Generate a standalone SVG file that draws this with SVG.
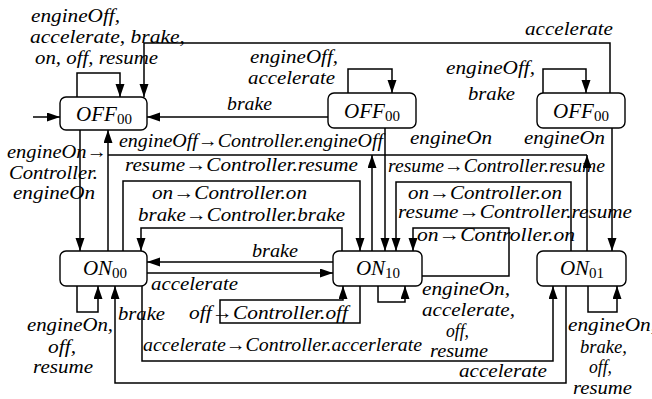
<svg xmlns="http://www.w3.org/2000/svg" width="652" height="399" viewBox="0 0 652 399">
<style>
.c{fill:none;stroke:#000;stroke-width:1.5;marker-end:url(#ah)}
.l{fill:none;stroke:#000;stroke-width:1.5}
.n{fill:#fff;stroke:#000;stroke-width:1.4}
</style>
<defs>
<marker id="ah" markerUnits="userSpaceOnUse" markerWidth="14" markerHeight="10" refX="13" refY="4.5" orient="auto">
<path d="M0,0 L13,4.5 L0,9 z" fill="#000"/>
</marker>
</defs>
<rect width="652" height="399" fill="#fff"/>
<g id="connectors">
<path class="c" d="M33,117 H60"/>
<path class="c" d="M77,97 V73 H120 V97"/>
<path class="c" d="M610,93 V43 H144 V97"/>
<path class="c" d="M348,93 V69 H392 V93"/>
<path class="c" d="M543,93 V69 H586 V93"/>
<path class="c" d="M328,117 H147"/>
<path class="c" d="M80,130 V251"/>
<path class="l" d="M108,155 H587"/>
<path class="c" d="M108,251 V130"/>
<path class="c" d="M372,251 V155"/>
<path class="c" d="M587,251 V155"/>
<path class="c" d="M385,128 V251"/>
<path class="c" d="M612,128 V251"/>
<path class="c" d="M123,251 V181 H360 V251"/>
<path class="c" d="M571,251 V182 H396 V251"/>
<path class="c" d="M342,251 V228 H141 V251"/>
<path class="c" d="M422,276 H509 V228 H413 V251"/>
<path class="c" d="M333,262 H147"/>
<path class="c" d="M147,273 H333"/>
<path class="c" d="M77,286 V312 H98 V286"/>
<path class="c" d="M360,286 V323 H220 V300 H343 V286"/>
<path class="c" d="M378,286 V302 H405 V286"/>
<path class="c" d="M142,286 V361 H553 V286"/>
<path class="c" d="M566,286 V383 H115 V286"/>
<path class="c" d="M588,286 V312 H617 V286"/>
</g>
<g id="labels" font-family="Liberation Serif" font-style="italic" font-size="19" fill="#000">
<text x="31" y="22" textLength="89" lengthAdjust="spacingAndGlyphs">engineOff,</text>
<text x="30" y="43" textLength="155" lengthAdjust="spacingAndGlyphs">accelerate, brake,</text>
<text x="35" y="64" textLength="123" lengthAdjust="spacingAndGlyphs">on, off, resume</text>
<text x="250" y="63" textLength="88" lengthAdjust="spacingAndGlyphs">engineOff,</text>
<text x="248" y="84" textLength="87" lengthAdjust="spacingAndGlyphs">accelerate</text>
<text x="227" y="110" textLength="45" lengthAdjust="spacingAndGlyphs">brake</text>
<text x="525" y="35" textLength="88" lengthAdjust="spacingAndGlyphs">accelerate</text>
<text x="446" y="74" textLength="89" lengthAdjust="spacingAndGlyphs">engineOff,</text>
<text x="468" y="100" textLength="47" lengthAdjust="spacingAndGlyphs">brake</text>
<text x="410" y="144" textLength="82" lengthAdjust="spacingAndGlyphs">engineOn</text>
<text x="524" y="144" textLength="81" lengthAdjust="spacingAndGlyphs">engineOn</text>
<text x="119" y="147" textLength="264" lengthAdjust="spacingAndGlyphs">engineOff→Controller.engineOff</text>
<text x="125" y="171" textLength="233" lengthAdjust="spacingAndGlyphs">resume→Controller.resume</text>
<text x="388" y="172" textLength="217" lengthAdjust="spacingAndGlyphs">resume→Controller.resume</text>
<text x="152" y="199" textLength="155" lengthAdjust="spacingAndGlyphs">on→Controller.on</text>
<text x="138" y="221" textLength="207" lengthAdjust="spacingAndGlyphs">brake→Controller.brake</text>
<text x="408" y="199" textLength="154" lengthAdjust="spacingAndGlyphs">on→Controller.on</text>
<text x="398" y="218" textLength="234" lengthAdjust="spacingAndGlyphs">resume→Controller.resume</text>
<text x="417" y="241" textLength="158" lengthAdjust="spacingAndGlyphs">on→Controller.on</text>
<text x="252" y="257" textLength="46" lengthAdjust="spacingAndGlyphs">brake</text>
<text x="151" y="290" textLength="87" lengthAdjust="spacingAndGlyphs">accelerate</text>
<text x="118" y="320" textLength="47" lengthAdjust="spacingAndGlyphs">brake</text>
<text x="189" y="319" textLength="159" lengthAdjust="spacingAndGlyphs">off→Controller.off</text>
<text x="143" y="351" textLength="279" lengthAdjust="spacingAndGlyphs">accelerate→Controller.accerlerate</text>
<text x="27" y="331" textLength="86" lengthAdjust="spacingAndGlyphs">engineOn,</text>
<text x="48" y="353" textLength="28" lengthAdjust="spacingAndGlyphs">off,</text>
<text x="33" y="373" textLength="60" lengthAdjust="spacingAndGlyphs">resume</text>
<text x="7" y="158" textLength="100" lengthAdjust="spacingAndGlyphs">engineOn→</text>
<text x="9" y="179" textLength="89" lengthAdjust="spacingAndGlyphs">Controller.</text>
<text x="13" y="199" textLength="82" lengthAdjust="spacingAndGlyphs">engineOn</text>
<text x="422" y="295" textLength="88" lengthAdjust="spacingAndGlyphs">engineOn,</text>
<text x="422" y="316" textLength="93" lengthAdjust="spacingAndGlyphs">accelerate,</text>
<text x="446" y="337" textLength="23" lengthAdjust="spacingAndGlyphs">off,</text>
<text x="430" y="357" textLength="58" lengthAdjust="spacingAndGlyphs">resume</text>
<text x="459" y="377" textLength="88" lengthAdjust="spacingAndGlyphs">accelerate</text>
<text x="568" y="331" textLength="88" lengthAdjust="spacingAndGlyphs">engineOn,</text>
<text x="580" y="353" textLength="47" lengthAdjust="spacingAndGlyphs">brake,</text>
<text x="589" y="373" textLength="23" lengthAdjust="spacingAndGlyphs">off,</text>
<text x="573" y="394" textLength="59" lengthAdjust="spacingAndGlyphs">resume</text>
</g>
<g id="OFF00_left">
<rect class="n" x="60" y="97" width="87" height="33" rx="6"/>
<text font-family="Liberation Serif" font-size="21" text-anchor="middle" x="104" y="121"><tspan font-style="italic">OFF</tspan><tspan font-size="15" dy="3">00</tspan></text>
</g>
<g id="OFF00_mid">
<rect class="n" x="328" y="93" width="88" height="35" rx="6"/>
<text font-family="Liberation Serif" font-size="21" text-anchor="middle" x="372" y="118"><tspan font-style="italic">OFF</tspan><tspan font-size="15" dy="3">00</tspan></text>
</g>
<g id="OFF00_right">
<rect class="n" x="537" y="93" width="88" height="35" rx="6"/>
<text font-family="Liberation Serif" font-size="21" text-anchor="middle" x="581" y="118"><tspan font-style="italic">OFF</tspan><tspan font-size="15" dy="3">00</tspan></text>
</g>
<g id="ON00">
<rect class="n" x="60" y="251" width="87" height="35" rx="6"/>
<text font-family="Liberation Serif" font-size="21" text-anchor="middle" x="105" y="275"><tspan font-style="italic">ON</tspan><tspan font-size="15" dy="3">00</tspan></text>
</g>
<g id="ON10">
<rect class="n" x="333" y="251" width="89" height="35" rx="6"/>
<text font-family="Liberation Serif" font-size="21" text-anchor="middle" x="378" y="275"><tspan font-style="italic">ON</tspan><tspan font-size="15" dy="3">10</tspan></text>
</g>
<g id="ON01">
<rect class="n" x="537" y="251" width="89" height="35" rx="6"/>
<text font-family="Liberation Serif" font-size="21" text-anchor="middle" x="582" y="275"><tspan font-style="italic">ON</tspan><tspan font-size="15" dy="3">01</tspan></text>
</g>
</svg>
